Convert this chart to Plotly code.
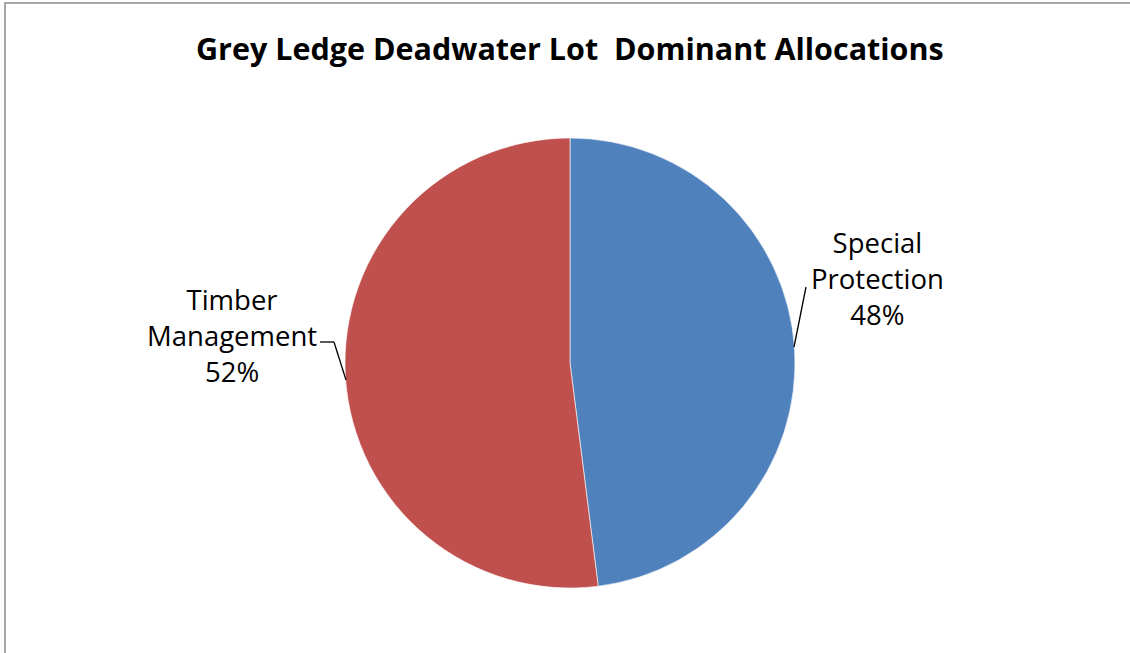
import plotly.graph_objects as go

W, H = 1130, 653

categories = ["Special Protection", "Timber Management"]
shares = [48, 52]
colors = ["#4F81BD", "#C0504D"]

title_text = "Grey Ledge Deadwater Lot  Dominant Allocations"


def px(x, y):
    """Pixel position -> paper coordinates (margins are zero)."""
    return x / W, 1 - y / H


fig = go.Figure()

cx, cy, r = 570, 363, 225
x0, y0 = px(cx - r, cy + r)
x1, y1 = px(cx + r, cy - r)

fig.add_trace(go.Pie(
    labels=categories,
    values=shares,
    sort=False,
    direction="clockwise",
    rotation=0,
    marker=dict(colors=colors, line=dict(color="rgba(255,255,255,0.6)", width=1)),
    textinfo="none",
    hoverinfo="label+percent",
    showlegend=False,
    domain=dict(x=[x0, x1], y=[y0, y1]),
))

label_font = dict(family="Open Sans, Liberation Sans, sans-serif", size=27.5, color="#000000")

# data labels with leader lines
label_spots = [(877, 278), (232, 335)]
leaders = [
    [(806, 287), (794, 347)],
    [(320, 342), (334, 342), (346, 380)],
]

annotations = []
for name, val, (lx, ly) in zip(categories, shares, label_spots):
    ax, ay = px(lx, ly)
    words = name.split(" ")
    annotations.append(dict(
        x=ax, y=ay, xref="paper", yref="paper",
        text="<br>".join(words + [f"{val}%"]),
        showarrow=False, align="center",
        xanchor="center", yanchor="middle",
        font=label_font,
    ))

shapes = []
for pts in leaders:
    for (a, b), (c, d) in zip(pts[:-1], pts[1:]):
        xa, ya = px(a, b)
        xc, yc = px(c, d)
        shapes.append(dict(type="line", xref="paper", yref="paper",
                           x0=xa, y0=ya, x1=xc, y1=yc,
                           line=dict(color="#000000", width=1.3)))

# chart-area frame
fx0, fy0 = px(5, 3)
shapes.append(dict(type="rect", xref="paper", yref="paper",
                   x0=fx0, y0=-0.05, x1=1.05, y1=fy0,
                   line=dict(color="#8C8C8C", width=1.5),
                   fillcolor="rgba(0,0,0,0)"))

tx, ty = px(570, 48)
annotations.append(dict(
    x=tx, y=ty, xref="paper", yref="paper",
    text=f"<b>{title_text}</b>",
    showarrow=False, xanchor="center", yanchor="middle",
    font=dict(family="Open Sans, Liberation Sans, sans-serif", size=30.5, color="#000000"),
))

fig.update_layout(
    width=W, height=H,
    margin=dict(l=0, r=0, t=0, b=0),
    paper_bgcolor="#FFFFFF",
    plot_bgcolor="#FFFFFF",
    annotations=annotations,
    shapes=shapes,
)

fig.write_html("out.html")
